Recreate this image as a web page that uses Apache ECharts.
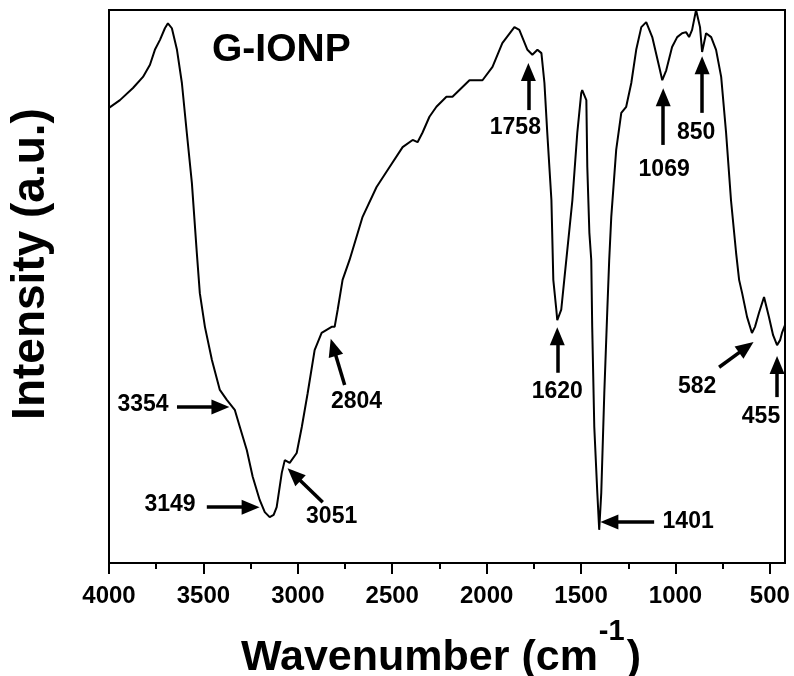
<!DOCTYPE html>
<html>
<head>
<meta charset="utf-8">
<script src="https://cdn.jsdelivr.net/npm/echarts@6/dist/echarts.min.js"></script>
<style>
  html, body { margin: 0; padding: 0; background: #fff; }
  #chart { width: 794px; height: 676px; }
</style>
</head>
<body>
<div id="chart"></div>
<script>
// spectrum (wavenumber in cm-1, intensity in a.u. 0..100)
const wavenumber = [4000, 3942, 3873, 3820, 3783, 3757, 3730, 3704, 3688, 3667, 3640, 3614, 3588, 3561, 3535, 3519,
  3492, 3455, 3413, 3376, 3334, 3307, 3270, 3239, 3202, 3175, 3149, 3128, 3112, 3085, 3069, 3043, 3006, 2979, 2948,
  2911, 2874, 2821, 2805, 2789, 2763, 2726, 2710, 2657, 2583, 2514, 2445, 2392, 2366, 2340, 2303, 2266, 2213, 2181,
  2091, 2022, 1969, 1917, 1853, 1827, 1784, 1758, 1731, 1710, 1694, 1679, 1657, 1647, 1631, 1626, 1605, 1589, 1546,
  1520, 1499, 1494, 1472, 1467, 1456, 1446, 1441, 1430, 1414, 1404, 1393, 1377, 1361, 1351, 1340, 1314, 1287, 1261,
  1234, 1208, 1181, 1155, 1123, 1086, 1070, 1049, 1018, 991, 965, 944, 928, 912, 891, 870, 859, 838, 811, 785, 758,
  732, 706, 679, 663, 647, 621, 595, 579, 558, 531, 505, 483, 462, 446, 436, 420];
const intensity = [82.3, 83.7, 85.9, 87.9, 90.1, 92.8, 94.6, 96.7, 97.6, 96.7, 92.8, 86.8, 77.8, 68.7, 56.1, 48.8,
  42.7, 36.7, 31.3, 29.5, 27.7, 24.6, 20.4, 15.6, 11.4, 9.2, 8.3, 8.7, 10.1, 16.3, 18.6, 18.1, 19.9, 24.6, 30.7,
  38.5, 41.6, 42.7, 42.7, 45.8, 51.2, 54.8, 56.6, 62.6, 68.0, 71.6, 75.2, 76.5, 76.1, 77.8, 80.7, 82.5, 84.3, 84.3,
  87.3, 87.3, 89.7, 94.0, 96.9, 96.4, 92.8, 91.9, 92.8, 92.2, 86.8, 77.8, 65.6, 51.2, 45.8, 43.9, 45.8, 51.2, 65.6,
  77.8, 85.0, 85.5, 83.7, 71.6, 59.7, 54.8, 42.7, 24.6, 12.7, 6.0, 12.7, 30.7, 45.8, 54.8, 62.6, 74.7, 81.4, 82.5,
  86.8, 92.8, 96.9, 97.8, 95.1, 89.7, 87.3, 89.1, 93.3, 95.1, 95.8, 96.0, 95.1, 96.4, 100, 96.9, 92.4, 95.8, 95.1, 92.8, 87.9,
  77.8, 65.6, 56.1, 51.2, 48.8, 44.5, 41.6, 42.7, 45.2, 48.1, 44.5, 41.2, 39.4, 40.3, 41.6, 43.0];

const majorTicks = [4000, 3500, 3000, 2500, 2000, 1500, 1000, 500];
const minorTicks = [3750, 3250, 2750, 2250, 1750, 1250, 750];

// peak annotations: label text, label position, arrow tail and arrow head
const peakNames = ['3354', '3149', '3051', '2804', '1758', '1069', '850', '1620', '1401', '582', '455'];
const labelWn = [3820, 3677, 2821, 2689, 1848, 1060, 891, 1626, 933, 885, 547];
const labelI = [28.6, 10.5, 8.3, 29.1, 78.8, 71.1, 77.9, 30.9, 7.4, 31.8, 26.4];
const arrowFrom = [[3640, 28.2], [3482, 10.1], [2868, 11.0], [2752, 32.2], [1779, 81.9], [1065, 75.6], [859, 81.4],
  [1626, 34.4], [1113, 7.4], [769, 35.4], [462, 30.0]];
const arrowTo = [[3410, 28.2], [3250, 10.1], [3020, 16.0], [2812, 39.0], [1779, 88.8], [1065, 84.2], [859, 90.0],
  [1626, 41.0], [1350, 7.4], [625, 39.0], [462, 35.8]];

const font = 'Liberation Sans, Arial, sans-serif';
const chart = echarts.init(document.getElementById('chart'));

const option = {
  animation: false,
  backgroundColor: '#fff',
  title: {
    text: 'G-IONP',
    left: 207,
    top: 26,
    textStyle: { fontFamily: font, fontSize: 39, fontWeight: 'bold', color: '#000' }
  },
  grid: {
    left: 109, right: 9, top: 10, bottom: 113,
    containLabel: false,
    outerBoundsMode: 'none',
    show: true, borderColor: '#000', borderWidth: 2
  },
  xAxis: [
    {
      type: 'value',
      inverse: true,
      min: 420,
      max: 4000,
      position: 'bottom',
      axisLine: { lineStyle: { color: '#000', width: 2 } },
      axisTick: { customValues: majorTicks, length: 11, lineStyle: { color: '#000', width: 2 } },
      axisLabel: {
        customValues: majorTicks, margin: 21, formatter: v => String(v),
        fontFamily: font, fontSize: 24, fontWeight: 'bold', color: '#000'
      },
      splitLine: { show: false },
      name: '{a|Wavenumber (cm}{b|-1}{a|)}',
      nameLocation: 'middle',
      nameGap: 54,
      nameTextStyle: {
        padding: [0, 12, 0, 0],
        rich: {
          a: { fontFamily: font, fontSize: 43, fontWeight: 'bold', color: '#000', lineHeight: 63, verticalAlign: 'bottom' },
          b: { fontFamily: font, fontSize: 29, fontWeight: 'bold', color: '#000', lineHeight: 30, verticalAlign: 'top', padding: [0, 2, 0, 1] }
        }
      }
    },
    {
      type: 'value',
      inverse: true,
      min: 420,
      max: 4000,
      position: 'bottom',
      axisLine: { show: false },
      axisTick: { customValues: minorTicks, length: 6, lineStyle: { color: '#000', width: 2 } },
      axisLabel: { show: false },
      splitLine: { show: false }
    }
  ],
  yAxis: {
    type: 'value',
    min: 0,
    max: 100,
    axisLine: { show: true, lineStyle: { color: '#000', width: 2 } },
    axisTick: { show: false },
    axisLabel: { show: false },
    splitLine: { show: false }
  },
  series: [
    {
      type: 'line',
      data: wavenumber.map((w, i) => [w, intensity[i]]),
      showSymbol: false,
      lineStyle: { color: '#000', width: 2 },
      markLine: {
        silent: true,
        symbol: ['none', 'triangle'],
        symbolSize: [15, 18],
        label: { show: false },
        lineStyle: { color: '#000', width: 3.5, type: 'solid' },
        itemStyle: { color: '#000' },
        data: arrowFrom.map((p, i) => [{ coord: p }, { coord: arrowTo[i] }])
      }
    }
  ]
};

chart.setOption(option);

// peak labels placed through the chart's own coordinate system
const texts = peakNames.map((n, i) => {
  const p = chart.convertToPixel({ seriesIndex: 0 }, [labelWn[i], labelI[i]]);
  return {
    type: 'text', x: p[0], y: p[1], silent: true,
    style: {
      text: n, fill: '#000', font: 'bold 23px ' + font,
      textAlign: 'center', textVerticalAlign: 'middle', align: 'center', verticalAlign: 'middle'
    }
  };
});
texts.push({
  type: 'text', x: 31, y: 264, rotation: Math.PI / 2, silent: true,
  style: {
    text: 'Intensity (a.u.)', fill: '#000', font: 'bold 46px ' + font,
    textAlign: 'center', textVerticalAlign: 'middle', align: 'center', verticalAlign: 'middle'
  }
});
chart.setOption({ graphic: texts });
</script>
</body>
</html>
